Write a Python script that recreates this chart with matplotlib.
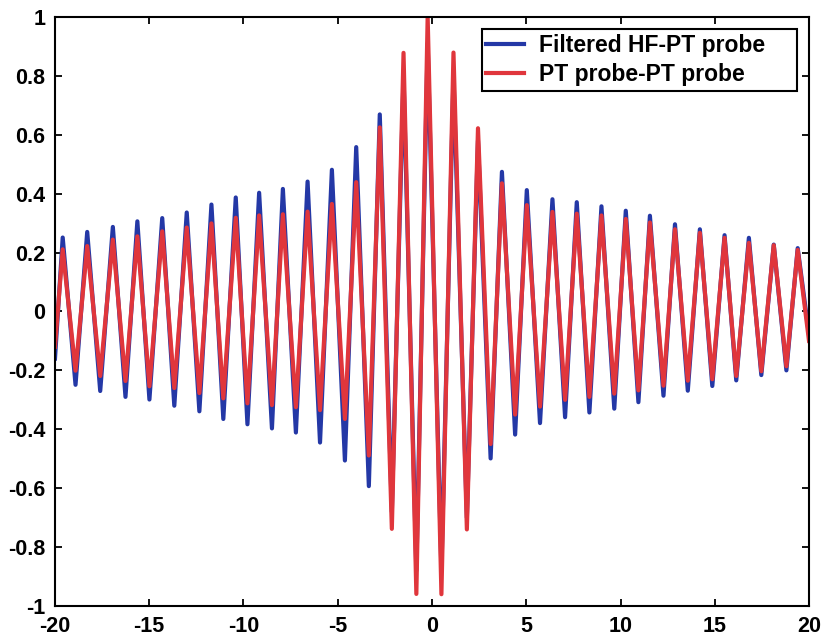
import numpy as np
import matplotlib
matplotlib.use("Agg")
import matplotlib.pyplot as plt

# Peak / trough positions and values
peak_x = [-19.59, -18.29, -16.93, -15.63, -14.31, -13.01, -11.70, -10.41, -9.17, -7.91,
          -6.60, -5.31, -4.02, -2.77, -1.51, -0.23, 1.14, 2.44, 3.71, 5.03,
          6.39, 7.68, 8.99, 10.28, 11.56, 12.89, 14.21, 15.52, 16.81, 18.13, 19.40]
blue_peak = [0.251, 0.270, 0.287, 0.306, 0.317, 0.336, 0.363, 0.387, 0.403, 0.416,
             0.441, 0.481, 0.558, 0.669, 0.80, 0.91, 0.80, 0.58, 0.474, 0.412,
             0.381, 0.371, 0.357, 0.342, 0.325, 0.296, 0.279, 0.259, 0.250, 0.227, 0.215]
red_peak = [0.211, 0.222, 0.244, 0.255, 0.272, 0.285, 0.299, 0.318, 0.326, 0.330,
            0.339, 0.365, 0.439, 0.625, 0.878, 1.0, 0.879, 0.622, 0.435, 0.361,
            0.338, 0.332, 0.326, 0.314, 0.302, 0.279, 0.267, 0.250, 0.233, 0.225, 0.209]

trough_x = [-18.91, -17.60, -16.26, -14.99, -13.67, -12.34, -11.07, -9.79, -8.49, -7.22,
            -5.94, -4.62, -3.35, -2.13, -0.83, 0.50, 1.85, 3.11, 4.41, 5.73,
            7.06, 8.35, 9.67, 10.95, 12.28, 13.57, 14.87, 16.14, 17.47, 18.80]
blue_trough = [-0.249, -0.270, -0.290, -0.299, -0.320, -0.339, -0.365, -0.383, -0.397, -0.411,
               -0.445, -0.506, -0.593, -0.68, -0.88, -0.88, -0.70, -0.499, -0.418, -0.379,
               -0.359, -0.343, -0.330, -0.308, -0.286, -0.269, -0.253, -0.234, -0.216, -0.200]
red_trough = [-0.201, -0.219, -0.236, -0.254, -0.260, -0.277, -0.295, -0.312, -0.318, -0.325,
              -0.335, -0.365, -0.489, -0.738, -0.959, -0.960, -0.740, -0.45, -0.35, -0.323,
              -0.300, -0.290, -0.279, -0.268, -0.252, -0.235, -0.230, -0.219, -0.203, -0.186]

# values at the edges of the window (x = -20 and x = 20)
edge_x = [-20, 20]
blue_edge = [-0.16, -0.08]
red_edge = [-0.12, -0.10]

labels = ["Filtered HF-PT probe", "PT probe-PT probe"]
xticks = [-20, -15, -10, -5, 0, 5, 10, 15, 20]
yticks = [-1, -0.8, -0.6, -0.4, -0.2, 0, 0.2, 0.4, 0.6, 0.8, 1]
ytick_labels = ["-1", "-0.8", "-0.6", "-0.4", "-0.2", "0", "0.2", "0.4", "0.6", "0.8", "1"]


def build_series(edge_vals, peaks, troughs):
    x = np.concatenate([edge_x, peak_x, trough_x])
    y = np.concatenate([edge_vals, peaks, troughs])
    order = np.argsort(x)
    return x[order], y[order]


xb, yb = build_series(blue_edge, blue_peak, blue_trough)
xr, yr = build_series(red_edge, red_peak, red_trough)

plt.rcParams['font.family'] = ['Liberation Sans', 'DejaVu Sans']
plt.rcParams['font.weight'] = 'bold'

fig = plt.figure(figsize=(8.23, 6.41), dpi=100)
ax = fig.add_axes([0.0668, 0.0546, 0.9162, 0.919])

ax.plot(xb, yb, color='#2438a6', linewidth=3.0, label=labels[0])
ax.plot(xr, yr, color='#e0363c', linewidth=3.0, label=labels[1])

ax.set_xlim(-20, 20)
ax.set_ylim(-1, 1)
ax.set_xticks(xticks)
ax.set_xticklabels([str(t) for t in xticks])
ax.set_yticks(yticks)
ax.set_yticklabels(ytick_labels)
ax.tick_params(direction='in', top=True, right=True, length=5, width=1.3,
               labelsize=15.5, pad=7)
for s in ax.spines.values():
    s.set_linewidth(1.5)

# legend box stretched to the width seen in the original
leg = ax.legend(loc='upper left', bbox_to_anchor=(0.566, 0.9796 - 0.1, 0.418, 0.1),
                mode='expand', borderaxespad=0,
                fancybox=False, edgecolor='black', framealpha=1,
                prop={'size': 16.5, 'weight': 'bold'},
                handlelength=1.66, handletextpad=0.65, borderpad=0.2, labelspacing=0.3)
leg.get_frame().set_linewidth(1.5)

fig.savefig("out.png", dpi=100)
